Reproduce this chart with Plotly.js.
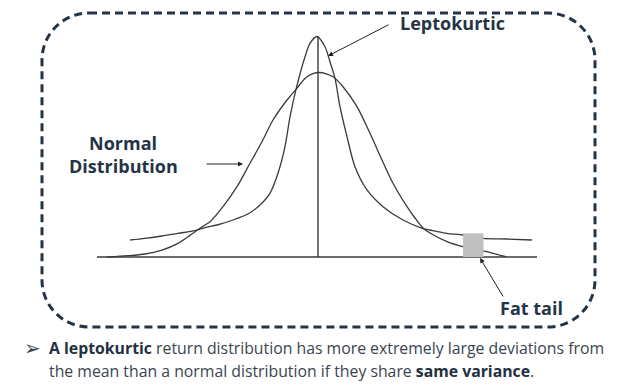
<!DOCTYPE html>
<html><head><meta charset="utf-8">
<script src="https://cdn.plot.ly/plotly-3.0.1.min.js"></script>
<style>html,body{margin:0;padding:0;background:#fff}#chart{width:620px;height:386px}</style>
</head><body><div id="chart"></div>
<script>
// ---- data (x: deviation from mean, in std-dev units; y: density) ----
const normalX = [-3.349,-3.016,-2.746,-2.476,-2.222,-2.063,-1.952,-1.794,-1.714,-1.508,-1.286,-1.095,-0.889,-0.714,-0.492,-0.349,-0.175,0.016,0.238,0.397,0.619,0.825,1.016,1.190,1.413,1.540,1.667,1.778,2.048,2.302,2.619,2.778,2.984];
const normalY = [0,0.0028,0.0065,0.0151,0.0296,0.0439,0.0547,0.0692,0.0763,0.1088,0.152,0.1989,0.2493,0.2962,0.3395,0.3626,0.3898,0.3989,0.3898,0.3682,0.325,0.2675,0.2097,0.1594,0.1088,0.0843,0.0627,0.0519,0.0331,0.0223,0.013,0.008,0.0006];
const leptoX = [-2.984,-2.746,-2.476,-2.222,-1.952,-1.794,-1.603,-1.349,-1.079,-0.921,-0.762,-0.635,-0.524,-0.444,-0.349,-0.206,-0.127,-0.016,0.111,0.190,0.270,0.349,0.460,0.587,0.778,1.032,1.349,1.667,1.778,2.048,2.302,2.619,3.0,3.397];
const leptoY = [0.0368,0.0404,0.0454,0.0512,0.0569,0.0634,0.0692,0.08,0.0958,0.1124,0.1377,0.181,0.2385,0.3034,0.3626,0.4331,0.462,0.4768,0.4547,0.4223,0.3864,0.325,0.2601,0.1952,0.1449,0.1088,0.08,0.0616,0.0584,0.0512,0.0476,0.0404,0.0389,0.0368];
const baselineX = [-3.508, 3.476];
const baselineY = [0, 0];
const meanX = [0, 0];
const meanY = [0, 0.4768];
const fatTailX = [2.302, 2.627];
const fatTailY = [0, 0.0512];
const labelTexts = ["Leptokurtic", "Normal", "Distribution", "Fat tail"];
const noteLines = [
  "<b><span style=\"color:#22303f\">A leptokurtic</span></b> return distribution has more extremely large deviations from",
  "the mean than a normal distribution if they share <b><span style=\"color:#22303f\">same variance</span></b>."
];
const bulletGlyph = "\u27A2";

// ---- layout helpers (pixel -> paper) ----
const W = 620, H = 386;
const px = x => x / W;
const py = y => 1 - y / H;
function boxPath(l, t, r, b, rad) {
  const k = rad * 0.5523;
  const P = (x, y) => px(x).toFixed(5) + ',' + py(y).toFixed(5);
  return 'M' + P(l + rad, t) + ' L' + P(r - rad, t) +
    ' C' + P(r - rad + k, t) + ' ' + P(r, t + rad - k) + ' ' + P(r, t + rad) +
    ' L' + P(r, b - rad) +
    ' C' + P(r, b - rad + k) + ' ' + P(r - rad + k, b) + ' ' + P(r - rad, b) +
    ' L' + P(l + rad, b) +
    ' C' + P(l + rad - k, b) + ' ' + P(l, b - rad + k) + ' ' + P(l, b - rad) +
    ' L' + P(l, t + rad) +
    ' C' + P(l, t + rad - k) + ' ' + P(l + rad - k, t) + ' ' + P(l + rad, t) + ' Z';
}

const curveColor = '#3a3a3a';
const navy = '#243447';
const textGray = '#39444f';
const labelFont = {family: 'Open Sans, Noto Sans, sans-serif', size: 18, color: navy};
const noteFont = {family: 'Open Sans, Noto Sans, sans-serif', size: 15.8, color: textGray};

const traces = [
  {x: normalX, y: normalY, mode: 'lines', line: {color: curveColor, width: 1.3, shape: 'spline', smoothing: 0.8}, hoverinfo: 'skip'},
  {x: leptoX, y: leptoY, mode: 'lines', line: {color: curveColor, width: 1.3, shape: 'spline', smoothing: 0.8}, hoverinfo: 'skip'},
  {x: baselineX, y: baselineY, mode: 'lines', line: {color: curveColor, width: 1.6}, hoverinfo: 'skip'},
  {x: meanX, y: meanY, mode: 'lines', line: {color: curveColor, width: 1.4}, hoverinfo: 'skip'}
];

function arrow(tipX, tipY, tailX, tailY) {
  return {xref: 'paper', yref: 'paper', x: px(tipX), y: py(tipY), ax: tailX - tipX, ay: tailY - tipY,
    text: '', showarrow: true, arrowhead: 2, arrowsize: 1, arrowwidth: 1, arrowcolor: '#222', standoff: 0, startstandoff: 0};
}
function label(t, cx, cy, anchor) {
  return {xref: 'paper', yref: 'paper', x: px(cx), y: py(cy), text: '<b>' + t + '</b>', showarrow: false,
    xanchor: anchor || 'center', yanchor: 'middle', font: labelFont};
}

const layout = {
  width: W, height: H,
  margin: {l: 0, r: 0, t: 0, b: 0, pad: 0},
  paper_bgcolor: '#ffffff', plot_bgcolor: '#ffffff',
  showlegend: false,
  xaxis: {range: [-318 / 63, 302 / 63], visible: false, fixedrange: true},
  yaxis: {range: [-129 / 462.5, 257 / 462.5], visible: false, fixedrange: true},
  shapes: [
    {type: 'path', xref: 'paper', yref: 'paper', path: boxPath(42, 13, 595, 327, 47),
      line: {color: navy, width: 3, dash: '8px,5px'}, fillcolor: 'rgba(0,0,0,0)'},
    {type: 'rect', xref: 'x', yref: 'y', x0: fatTailX[0], x1: fatTailX[1], y0: fatTailY[0], y1: fatTailY[1],
      fillcolor: '#c0c0c0', line: {width: 0}, layer: 'above'}
  ],
  annotations: [
    label(labelTexts[0], 452, 23),
    label(labelTexts[1], 123, 143),
    label(labelTexts[2], 123, 166),
    label(labelTexts[3], 531, 308),
    arrow(328, 56, 390, 24),
    arrow(243, 164, 205, 164),
    arrow(480, 258, 504, 298),
    {xref: 'paper', yref: 'paper', x: px(22), y: py(348), text: bulletGlyph, showarrow: false, xanchor: 'left', yanchor: 'middle',
      font: {family: 'DejaVu Sans, sans-serif', size: 20, color: textGray}},
    {xref: 'paper', yref: 'paper', x: px(47), y: py(348), text: noteLines[0], showarrow: false, xanchor: 'left', yanchor: 'middle',
      font: noteFont},
    {xref: 'paper', yref: 'paper', x: px(47), y: py(371), text: noteLines[1], showarrow: false, xanchor: 'left', yanchor: 'middle',
      font: noteFont}
  ]
};

Plotly.newPlot('chart', traces, layout, {staticPlot: true, displayModeBar: false});
</script></body></html>
